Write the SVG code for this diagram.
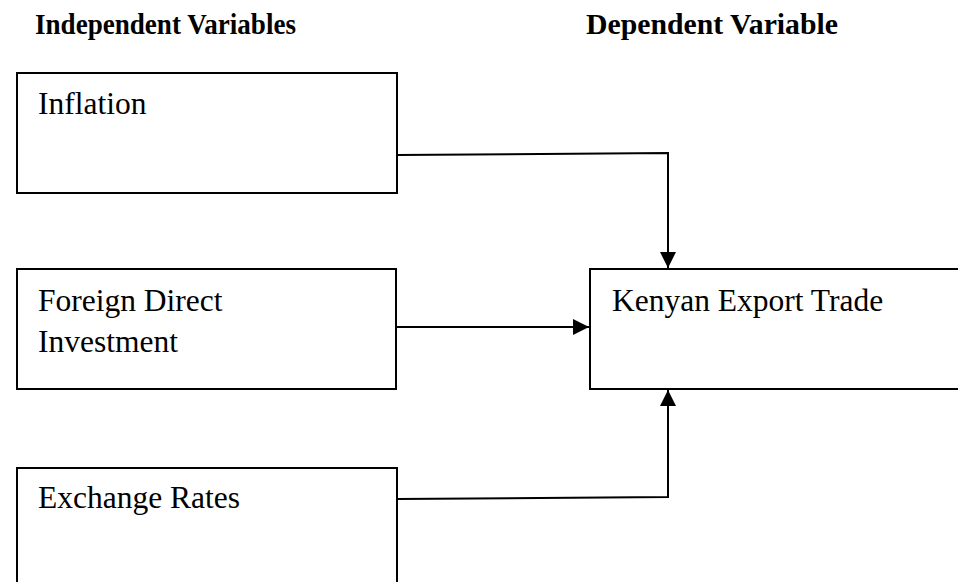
<svg xmlns="http://www.w3.org/2000/svg" width="958" height="582" viewBox="0 0 958 582">
<defs>
<style>
.box{fill:#fff;stroke:#000;stroke-width:2}
.t{font-family:"Liberation Serif","Times New Roman",serif;font-size:31.5px;fill:#000}
.h{font-family:"Liberation Serif","Times New Roman",serif;font-size:30px;font-weight:bold;fill:#000}
.c{fill:none;stroke:#000;stroke-width:2}
</style>
<marker id="arr" viewBox="0 0 10 10" refX="10" refY="5" markerWidth="8" markerHeight="8" markerUnits="strokeWidth" orient="auto">
<path d="M0,0 L10,5 L0,10 Z" fill="#000"/>
</marker>
</defs>
<rect width="958" height="582" fill="#fff"/>
<text class="h" x="35" y="34" textLength="261" lengthAdjust="spacingAndGlyphs">Independent Variables</text>
<text class="h" x="586" y="34" textLength="252" lengthAdjust="spacingAndGlyphs">Dependent Variable</text>
<g id="inflation">
<rect class="box" x="17" y="73" width="380" height="120"/>
<text class="t" x="38" y="114">Inflation</text>
</g>
<g id="fdi">
<rect class="box" x="17" y="269" width="379" height="120"/>
<text class="t" x="38" y="311">Foreign Direct</text>
<text class="t" x="38" y="352">Investment</text>
</g>
<g id="exchange">
<rect class="box" x="17" y="468" width="380" height="130"/>
<text class="t" x="38" y="508">Exchange Rates</text>
</g>
<g id="kenyan">
<rect class="box" x="590" y="269" width="380" height="120"/>
<text class="t" x="612" y="311">Kenyan Export Trade</text>
</g>
<g id="connectors">
<path class="c" d="M397,155 L668,153 L668,268" marker-end="url(#arr)"/>
<path class="c" d="M396,327 L589,327" marker-end="url(#arr)"/>
<path class="c" d="M397,499 L668,497 L668,390" marker-end="url(#arr)"/>
</g>
</svg>
